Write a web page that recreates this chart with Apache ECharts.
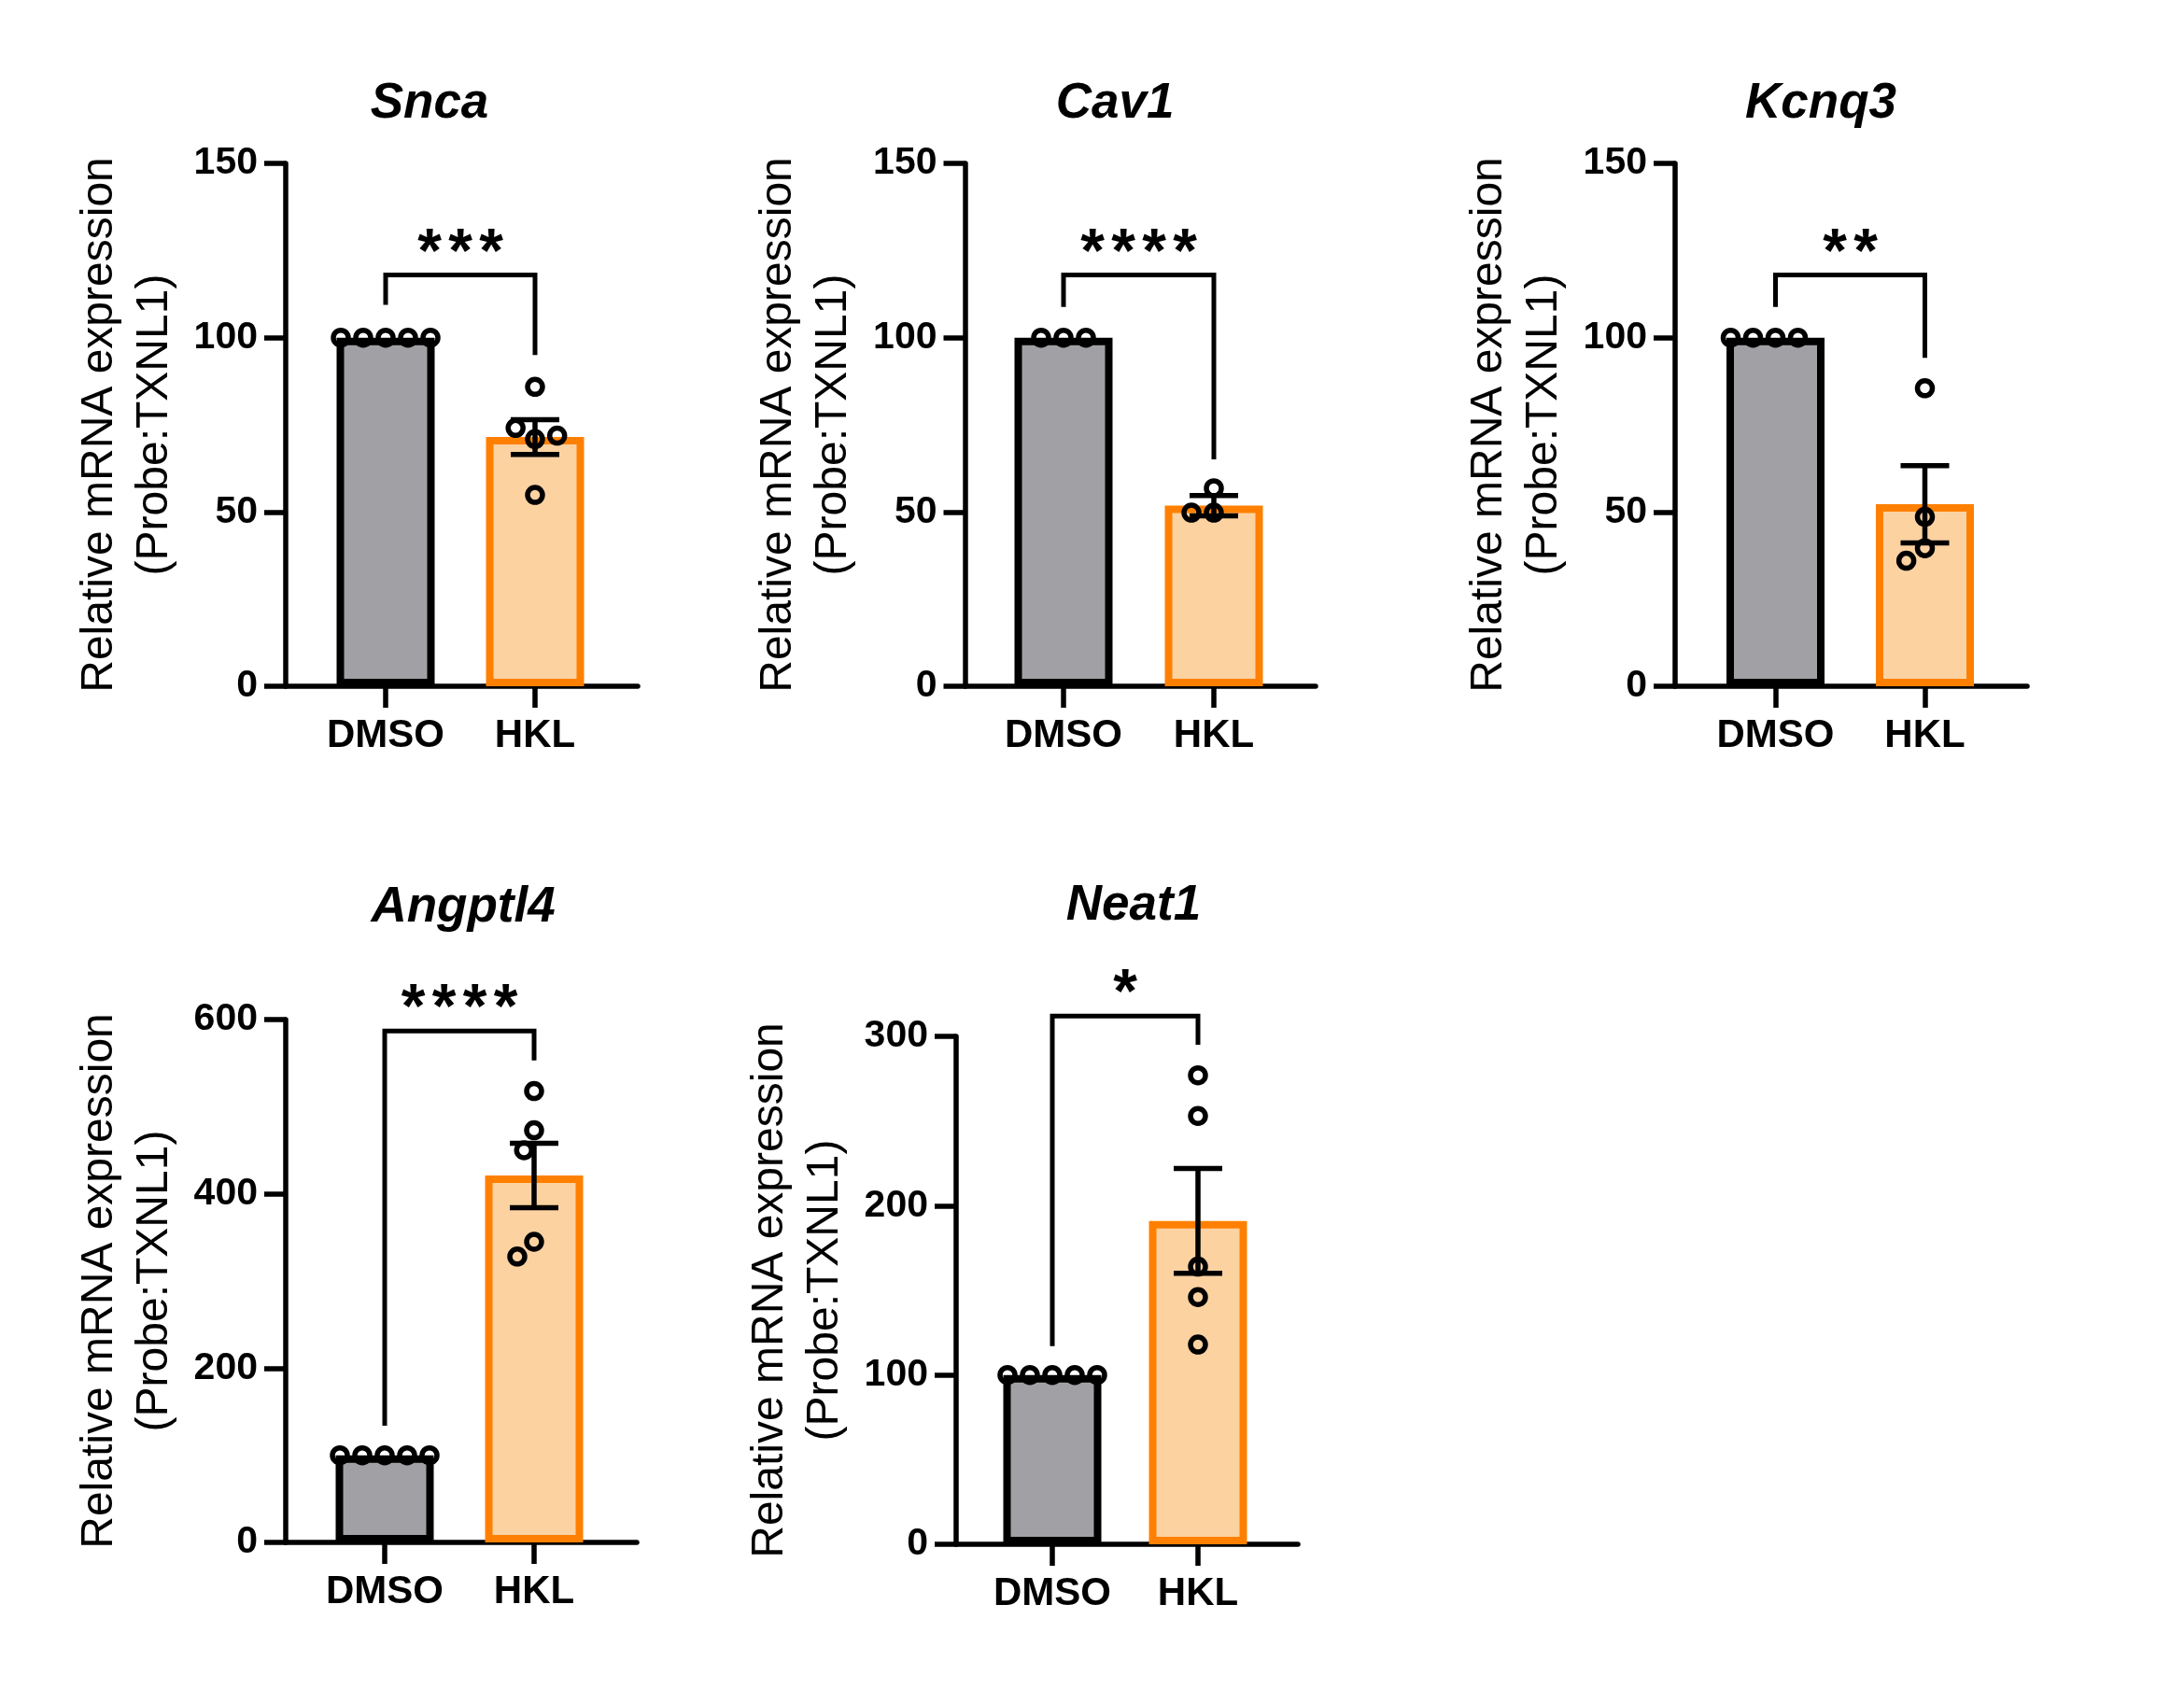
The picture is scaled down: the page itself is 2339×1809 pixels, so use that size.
<!DOCTYPE html>
<html>
<head>
<meta charset="utf-8">
<title>Relative mRNA expression</title>
<script src="https://cdn.jsdelivr.net/npm/echarts@6.0.0/dist/echarts.min.js"></script>
<style>
  html, body { margin: 0; padding: 0; background: #fff; }
  #chart { width: 2339px; height: 1809px; }
</style>
</head>
<body>
<div id="chart"></div>
<script>
// ---- data ----
var groups = ['DMSO', 'HKL'];
var genes = ['Snca', 'Cav1', 'Kcnq3', 'Angptl4', 'Neat1'];
var yMax = [150, 150, 150, 600, 300];
var yStep = [50, 50, 50, 200, 100];

var dmsoPoints = [
  [100, 100, 100, 100, 100],
  [100, 100, 100],
  [100, 100, 100, 100],
  [100, 100, 100, 100, 100],
  [100, 100, 100, 100, 100]
];
var hklPoints = [
  [85.9, 70.9, 74.1, 71.9, 54.9],
  [56.8, 49.8, 49.8],
  [85.5, 48.6, 39.6, 36.0],
  [518, 473, 450, 345, 328],
  [277, 253, 164, 146, 118]
];
var dmsoMean = [100, 100, 100, 100, 100];
var hklMean = [71.5, 51.8, 52.2, 421, 191];
var hklSem = [5.0, 2.9, 11.1, 37, 31];

// significance brackets: stars, bracket top, left leg end, right leg end
var stars = ['***', '****', '**', '****', '*'];
var bracketTop = [118, 118, 118, 587, 312];
var bracketLeftEnd = [109.4, 108.8, 108.8, 134, 117];
var bracketRightEnd = [95, 65.1, 94.2, 553, 295];

// ---- layout (px) ----
var panels = [
  { left: 306,    right: 683,  top: 175,  bottom: 735,  c0: 413,    c1: 573,    tx: 460,  ty: 111 },
  { left: 1033.5, right: 1409, top: 175,  bottom: 735,  c0: 1139,   c1: 1300,   tx: 1194, ty: 111 },
  { left: 1794,   right: 2171, top: 175,  bottom: 735,  c0: 1901.5, c1: 2061.5, tx: 1950, ty: 111 },
  { left: 306,    right: 682,  top: 1092, bottom: 1652, c0: 412,    c1: 572,    tx: 496,  ty: 972 },
  { left: 1024,   right: 1390, top: 1110, bottom: 1654, c0: 1127,   c1: 1283,   tx: 1214, ty: 970 }
];

var FONT = '"Liberation Sans", Arial, Helvetica, sans-serif';
var GRAY = '#a1a1a5';
var PEACH = '#fdd2a1';
var ORANGE = '#ff8000';
var LW = 5.5;

var grids = [], xAxes = [], yAxes = [], series = [], graphics = [];

panels.forEach(function (p, i) {
  var band = p.c1 - p.c0;
  // outer grid: y axis + x axis line
  grids.push({ left: p.left, top: p.top, width: p.right - p.left, height: p.bottom - p.top, outerBoundsMode: 'none' });
  // inner grid: categories
  grids.push({ left: p.c0 - band / 2, top: p.top, width: band * 2, height: p.bottom - p.top, outerBoundsMode: 'none' });
  var go = i * 2, gi = i * 2 + 1;

  xAxes.push({
    gridIndex: go, type: 'value', min: 0, max: 1,
    axisLine: { show: true, lineStyle: { color: '#000', width: LW } },
    axisTick: { show: false }, axisLabel: { show: false }, splitLine: { show: false }
  });
  xAxes.push({
    gridIndex: gi, type: 'category', data: groups, boundaryGap: true,
    jitter: 100, jitterOverlap: false, jitterMargin: 8,
    axisLine: { show: false },
    axisTick: { show: true, interval: 0, alignWithLabel: true, length: 23, lineStyle: { color: '#000', width: LW } },
    axisLabel: { show: true, interval: 0, hideOverlap: false, color: '#000', fontSize: 42, fontWeight: 'bold', fontFamily: FONT, margin: 32 },
    splitLine: { show: false }
  });
  yAxes.push({
    gridIndex: go, type: 'value', min: 0, max: yMax[i], interval: yStep[i],
    name: 'Relative mRNA expression\n(Probe:TXNL1)',
    nameLocation: 'middle', nameRotate: 90, nameGap: 111,
    nameTextStyle: { color: '#000', fontSize: 48, fontFamily: FONT, lineHeight: 59 },
    axisLine: { show: true, lineStyle: { color: '#000', width: LW } },
    axisTick: { show: true, length: 23, lineStyle: { color: '#000', width: LW } },
    axisLabel: { color: '#000', fontSize: 41, fontWeight: 'bold', fontFamily: FONT, margin: 30 },
    splitLine: { show: false }
  });
  yAxes.push({ gridIndex: gi, type: 'value', min: 0, max: yMax[i], show: false });

  series.push({
    type: 'bar', xAxisIndex: gi, yAxisIndex: gi, barWidth: 105, z: 2,
    data: [
      { value: dmsoMean[i], itemStyle: { color: GRAY, borderColor: '#000', borderWidth: 8 } },
      { value: hklMean[i], itemStyle: { color: PEACH, borderColor: ORANGE, borderWidth: 8 } }
    ]
  });

  series.push({
    type: 'custom', xAxisIndex: gi, yAxisIndex: gi, z: 4,
    data: [[0, dmsoMean[i], 0], [1, hklMean[i], hklSem[i]]],
    renderItem: function (params, api) {
      var x = api.value(0), m = api.value(1), s = api.value(2);
      if (!s) return null;
      var a = api.coord([x, m + s]), b = api.coord([x, m - s]);
      var hw = 26, st = { stroke: '#000', lineWidth: LW };
      return { type: 'group', children: [
        { type: 'line', shape: { x1: a[0], y1: a[1], x2: b[0], y2: b[1] }, style: st },
        { type: 'line', shape: { x1: a[0] - hw, y1: a[1], x2: a[0] + hw, y2: a[1] }, style: st },
        { type: 'line', shape: { x1: b[0] - hw, y1: b[1], x2: b[0] + hw, y2: b[1] }, style: st }
      ] };
    }
  });

  var pts = [];
  dmsoPoints[i].forEach(function (v) { pts.push([0, v]); });
  hklPoints[i].forEach(function (v) { pts.push([1, v]); });
  series.push({
    type: 'scatter', xAxisIndex: gi, yAxisIndex: gi, z: 5,
    symbol: 'circle', symbolSize: 16,
    itemStyle: { color: 'rgba(255,255,255,0)', borderColor: '#000', borderWidth: 5.5, opacity: 1 },
    data: pts
  });

  var starText = stars[i];
  series.push({
    type: 'custom', xAxisIndex: gi, yAxisIndex: gi, z: 6, clip: false,
    data: [[bracketLeftEnd[i], bracketRightEnd[i], bracketTop[i]]],
    renderItem: function (params, api) {
      var l = api.coord([0, api.value(0)]), r = api.coord([1, api.value(1)]);
      var tl = api.coord([0, api.value(2)]), tr = api.coord([1, api.value(2)]);
      var kids = [{
        type: 'polyline',
        shape: { points: [[l[0], l[1]], [tl[0], tl[1]], [tr[0], tr[1]], [r[0], r[1]]] },
        style: { stroke: '#000', lineWidth: 5, fill: null, lineJoin: 'miter' }
      }];
      var n = starText.length, mid = (tl[0] + tr[0]) / 2;
      for (var k = 0; k < n; k++) {
        kids.push({
          type: 'text',
          style: {
            text: '*', x: mid + (k - (n - 1) / 2) * 33, y: tl[1] - 22,
            align: 'center', verticalAlign: 'middle',
            textAlign: 'center', textVerticalAlign: 'middle',
            fontSize: 66, fontWeight: 'bold', fontFamily: FONT, fill: '#000'
          }
        });
      }
      return { type: 'group', children: kids };
    }
  });

  graphics.push({
    type: 'text', x: p.tx, y: p.ty,
    style: {
      text: genes[i], fill: '#000',
      font: 'italic bold 53px ' + FONT,
      textAlign: 'center', textVerticalAlign: 'middle',
      align: 'center', verticalAlign: 'middle'
    }
  });
});

var chart = echarts.init(document.getElementById('chart'), null, { renderer: 'canvas' });
chart.setOption({
  animation: false,
  backgroundColor: '#fff',
  grid: grids,
  xAxis: xAxes,
  yAxis: yAxes,
  series: series,
  graphic: { elements: graphics }
});
</script>
</body>
</html>
